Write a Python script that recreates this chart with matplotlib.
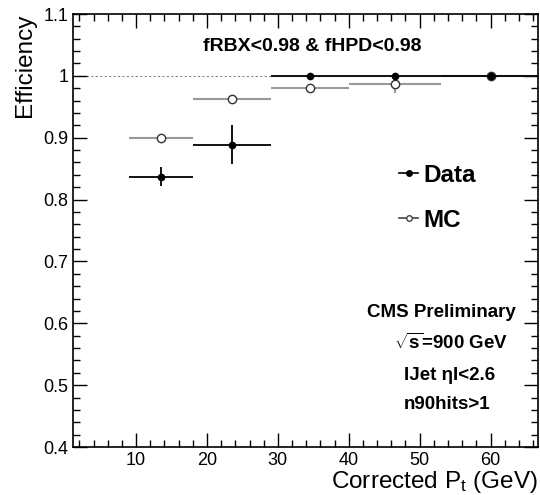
import matplotlib
matplotlib.use('Agg')
import matplotlib.pyplot as plt
from matplotlib.lines import Line2D
from matplotlib.ticker import MultipleLocator

plt.rcParams['font.family'] = ['Liberation Sans', 'DejaVu Sans']
plt.rcParams['mathtext.fontset'] = 'custom'
plt.rcParams['mathtext.rm'] = 'Liberation Sans'
plt.rcParams['mathtext.it'] = 'Liberation Sans:italic'
plt.rcParams['mathtext.bf'] = 'Liberation Sans:bold'

# bins in corrected pt (GeV)
bin_lo = [9, 18, 29, 40, 53]
bin_hi = [18, 29, 40, 53, 67]
bin_mid = [13.5, 23.5, 34.5, 46.5, 60]

data_eff = [0.837, 0.889, 1.0, 1.0, 1.0]
data_err = [0.015, 0.032, 0.0, 0.0, 0.0]
mc_eff = [0.900, 0.962, 0.981, 0.987, 1.0]
mc_err = [0.002, 0.002, 0.002, 0.014, 0.0]

cuts = ['CMS Preliminary', r'$\sqrt{\mathbf{s}}$=900 GeV', 'IJet \u03b7I<2.6', 'n90hits>1']

xl = [m - lo for m, lo in zip(bin_mid, bin_lo)]
xh = [hi - m for m, hi in zip(bin_mid, bin_hi)]

fig = plt.figure(figsize=(5.4, 4.95), dpi=100)
ax = fig.add_axes([73/540, 48/495, 465/540, 433/495])

ax.axhline(1.0, color='#888888', ls=(0, (2, 2)), lw=0.8, zorder=1)

ax.errorbar(bin_mid, mc_eff, xerr=[xl, xh], yerr=mc_err, fmt='o', color='#999999',
            mfc='white', mec='#333333', ms=6, mew=1.0, elinewidth=1.5, capsize=0, zorder=2)
ax.errorbar(bin_mid, data_eff, xerr=[xl, xh], yerr=data_err, fmt='o', color='black',
            ms=4.5, elinewidth=1.3, capsize=0, zorder=3)

ax.set_xlim(1.1, 66.7)
ax.set_ylim(0.4, 1.1)
ax.xaxis.set_major_locator(MultipleLocator(10))
ax.xaxis.set_minor_locator(MultipleLocator(2))
ax.yaxis.set_major_locator(MultipleLocator(0.1))
ax.yaxis.set_minor_locator(MultipleLocator(0.02))
ax.yaxis.set_major_formatter(plt.FuncFormatter(lambda v, p: '1' if abs(v - 1) < 1e-6 else f'{v:.1f}'))
ax.tick_params(which='both', direction='in', top=True, right=True, labelsize=13, width=1)
ax.tick_params(which='major', length=10)
ax.tick_params(which='minor', length=5)
for s in ax.spines.values():
    s.set_linewidth(1.2)

ax.set_xlabel(r'Corrected P$_\mathrm{t}$ (GeV)', fontsize=17.5, loc='right', labelpad=0)
ax.set_ylabel('Efficiency', fontsize=17.5, loc='top', labelpad=5)

ax.text(34.8, 1.048, 'fRBX<0.98 & fHPD<0.98', ha='center', va='center',
        fontsize=14, fontweight='bold')
cut_x = [53.1, 54.4, 54.2, 53.9]
cut_y = [0.617, 0.568, 0.516, 0.468]
for t, x, y in zip(cuts, cut_x, cut_y):
    ax.text(x, y, t, ha='center', va='center', fontsize=13.5, fontweight='bold')

handles = [Line2D([], [], color='black', marker='o', ms=4, lw=1.2),
           Line2D([], [], color='#444444', marker='o', ms=4, mfc='white', lw=1.2)]
ax.legend(handles, ['Data', 'MC'], loc='upper left', bbox_to_anchor=(399/540, 1 - 164/495),
          bbox_transform=fig.transFigure, frameon=False, prop={'size': 17.5, 'weight': 'bold'},
          handlelength=0.8, handletextpad=0.2, labelspacing=0.9, borderpad=0, borderaxespad=0)

fig.savefig('out.png', dpi=100)
